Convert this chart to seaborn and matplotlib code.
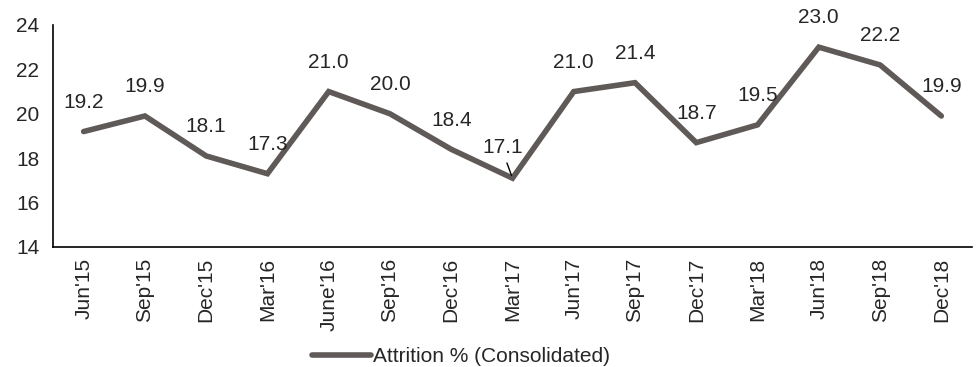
import matplotlib
matplotlib.use("Agg")
import matplotlib.pyplot as plt
from matplotlib.ticker import FixedLocator, MultipleLocator
import seaborn as sns
import pandas as pd

quarters = ["Jun'15", "Sep'15", "Dec'15", "Mar'16", "June'16", "Sep'16", "Dec'16",
            "Mar'17", "Jun'17", "Sep'17", "Dec'17", "Mar'18", "Jun'18", "Sep'18", "Dec'18"]
attrition = [19.2, 19.9, 18.1, 17.3, 21.0, 20.0, 18.4, 17.1, 21.0, 21.4, 18.7, 19.5, 23.0, 22.2, 19.9]
series_name = "Attrition % (Consolidated)"

df = pd.DataFrame({"Quarter": quarters, "Attrition": attrition})

sns.set_style("white")
plt.rcParams["font.family"] = ["Liberation Sans", "DejaVu Sans"]

line_color = "#5f5957"
fs = 15

fig = plt.figure(figsize=(9.8, 3.67), dpi=100)
ax = fig.add_axes([0.0541, 0.327, 0.9377, 0.605])

sns.lineplot(data=df, x="Quarter", y="Attrition", ax=ax, color=line_color,
             linewidth=4, sort=False, label=series_name,
             solid_joinstyle="miter")

ax.set_ylim(14, 24)
ax.set_xlim(-0.5, len(quarters) - 0.5)
ax.yaxis.set_major_locator(MultipleLocator(2))

# category labels at centres, tick marks on the boundaries
ax.set_xticks(range(len(quarters)))
ax.set_xticklabels(quarters, rotation=90, fontsize=fs)
ax.xaxis.set_minor_locator(FixedLocator([i - 0.5 for i in range(len(quarters) + 1)]))
ax.tick_params(axis="x", which="major", length=0, pad=8)
ax.tick_params(axis="x", which="minor", length=5, width=1.2, color="black", direction="out")
ax.tick_params(axis="y", length=5, width=1.2, color="black", direction="out",
               labelsize=fs, pad=5)

for side in ["top", "right"]:
    ax.spines[side].set_visible(False)
for side in ["left", "bottom"]:
    ax.spines[side].set_color("black")
    ax.spines[side].set_linewidth(1.2)

ax.set_xlabel("")
ax.set_ylabel("")

for i, v in enumerate(attrition):
    if quarters[i] == "Mar'17":
        ax.annotate(f"{v:.1f}", xy=(i, v), xytext=(-7, 22), textcoords="offset points",
                    ha="center", va="center", fontsize=fs,
                    arrowprops=dict(arrowstyle="-", color="black", lw=1,
                                    relpos=(0.55, 0.0), shrinkA=2, shrinkB=2))
    else:
        ax.annotate(f"{v:.1f}", xy=(i, v), xytext=(0, 21), textcoords="offset points",
                    ha="center", va="center", fontsize=fs)

leg = ax.legend(loc="center", bbox_to_anchor=(461 / 980, 1 - 357 / 367),
                bbox_transform=fig.transFigure, frameon=False, fontsize=fs,
                handlelength=2.8, handletextpad=0.1)

fig.savefig("out.png", dpi=100)
